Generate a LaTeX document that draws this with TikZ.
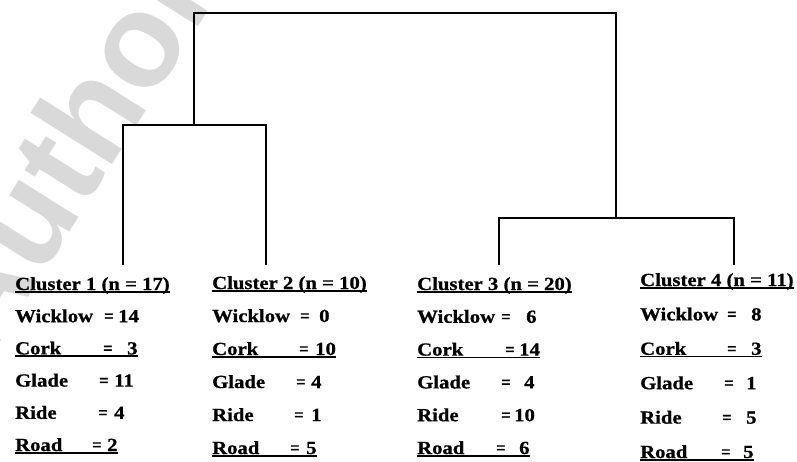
\documentclass[tikz,border=0pt]{standalone}
\usepackage{fontspec}
\usepackage{graphicx}
\setmainfont{Liberation Serif}[FakeStretch=1.12,BoldFeatures={FakeBold=0.8}]
\newfontfamily\wmfont{Liberation Sans}
\usetikzlibrary{positioning}

\newsavebox{\ulbox}
\newcommand{\ulrow}[1]{\sbox{\ulbox}{#1}\rlap{\rule[-2.6pt]{\wd\ulbox}{1.6pt}}\usebox{\ulbox}}
\newcommand{\crow}[4]{\makebox[#1pt][l]{#2}\makebox[#3pt][l]{\scalebox{0.8}[1]{=}}#4}

\begin{document}
\begin{tikzpicture}[
  x=1pt,y=-1pt,
  link/.style={line width=1.8pt},
  clus/.style={anchor=base west,align=left,inner sep=0pt,font=\fontsize{18.5}{#1}\selectfont\bfseries},
  wmark/.style={text=black!15,font=\fontsize{133}{133}\selectfont\wmfont\bfseries,rotate=57.8}
]
\useasboundingbox (0,0) rectangle (797,461);
\node[wmark] (wm) at (65,150) {Author};
% cluster summaries (placed at the baseline of their last line)
\node[clus=32.2] (c1) at (15,451) {\ulrow{Cluster 1 (n = 17)}\\
  \crow{89}{Wicklow}{14}{14}\\
  \ulrow{\crow{88}{Cork}{24}{3}}\\
  \crow{84}{Glade}{15}{11}\\
  \crow{83}{Ride}{16}{4}\\
  \ulrow{\crow{77}{Road}{15}{2}}};
\node[clus=33] (c2) at (212,454) {\ulrow{Cluster 2 (n = 10)}\\
  \crow{88}{Wicklow}{19}{0}\\
  \ulrow{\crow{87}{Cork}{16}{10}}\\
  \crow{84}{Glade}{15}{4}\\
  \crow{82}{Ride}{17}{1}\\
  \ulrow{\crow{78}{Road}{16}{5}}};
\node[clus=32.8] (c3) at (417,454) {\ulrow{Cluster 3 (n = 20)}\\
  \crow{84}{Wicklow}{25}{6}\\
  \ulrow{\crow{88}{Cork}{14}{14}}\\
  \crow{84}{Glade}{23}{4}\\
  \crow{84}{Ride}{13}{10}\\
  \ulrow{\crow{79}{Road}{23}{6}}};
\node[clus=34.4] (c4) at (640,458) {\ulrow{Cluster 4 (n = 11)}\\
  \crow{87}{Wicklow}{24}{8}\\
  \ulrow{\crow{87}{Cork}{24}{3}}\\
  \crow{84}{Glade}{22}{1}\\
  \crow{82}{Ride}{24}{5}\\
  \ulrow{\crow{81}{Road}{22}{5}}};
% dendrogram
\coordinate (l1) at (123,265);
\coordinate (l2) at (266,265);
\coordinate (l3) at (499,265);
\coordinate (l4) at (734,265);
\coordinate (m12) at (194,125);
\coordinate (m34) at (616,218);
\coordinate (root) at (405,13);
\draw[link] (l1) |- (m12) -| (l2);
\draw[link] (l3) |- (m34) -| (l4);
\draw[link] (m12) |- (root) -| (m34);
\end{tikzpicture}
\end{document}
